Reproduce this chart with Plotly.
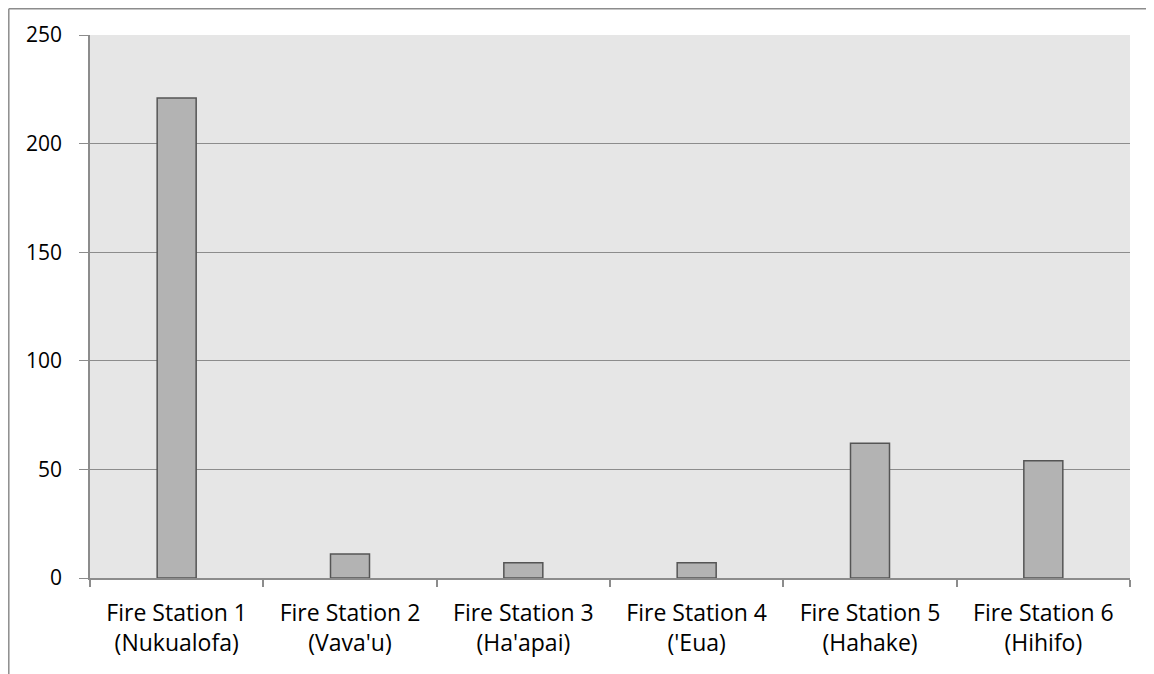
import plotly.graph_objects as go

categories = ["Fire Station 1<br>(Nukualofa)", "Fire Station 2<br>(Vava'u)", "Fire Station 3<br>(Ha'apai)",
              "Fire Station 4<br>('Eua)", "Fire Station 5<br>(Hahake)", "Fire Station 6<br>(Hihifo)"]
values = [221, 11, 7, 7, 62, 54]
y_ticks = [0, 50, 100, 150, 200, 250]

# page has an 8px body margin; figure occupies page x 8..1154, y 8..674
W, H = 1146, 666
L, R, T, B = 82, 24, 27, 96

fig = go.Figure(go.Bar(
    x=categories, y=values,
    marker=dict(color="#b3b3b3", line=dict(color="#555555", width=1.5)),
))

def fx(px):
    return (px - L) / (W - L - R)

def fy(py):
    return (H - B - py) / (H - T - B)

fig.update_layout(
    width=W, height=H,
    margin=dict(l=L, r=R, t=T, b=B),
    paper_bgcolor="white",
    plot_bgcolor="#e6e6e6",
    bargap=0.775,
    showlegend=False,
    font=dict(family="Open Sans", size=21, color="black"),
    xaxis=dict(
        tickson="boundaries", ticks="outside", ticklen=7, tickcolor="#8c8c8c", tickwidth=1.5,
        showline=True, linecolor="#8c8c8c", linewidth=2,
        showgrid=False, tickfont=dict(size=23), ticklabelstandoff=13,
    ),
    yaxis=dict(
        range=[0, 250], tickvals=y_ticks, ticks="outside", ticklen=9, tickcolor="#8c8c8c",
        showline=True, linecolor="#8c8c8c", linewidth=1.5,
        showgrid=True, gridcolor="#8c8c8c", gridwidth=1.2, zeroline=False,
        tickfont=dict(size=21), ticklabelstandoff=13,
    ),
    shapes=[
        dict(type="line", xref="paper", yref="paper",
             x0=fx(0.8), x1=fx(W + 5), y0=fy(0.8), y1=fy(0.8),
             line=dict(color="#8c8c8c", width=1.5)),
        dict(type="line", xref="paper", yref="paper",
             x0=fx(0.8), x1=fx(0.8), y0=fy(0.8), y1=fy(H + 5),
             line=dict(color="#8c8c8c", width=1.5)),
    ],
)

fig.write_html("out.html")
